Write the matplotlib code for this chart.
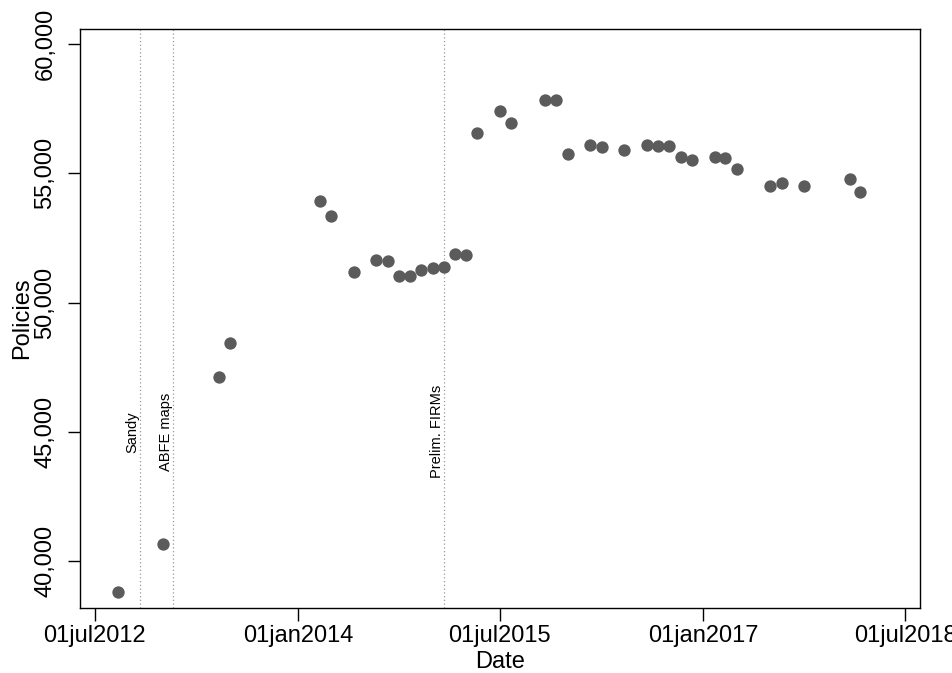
import pandas as pd
import matplotlib
matplotlib.use('Agg')
import matplotlib.pyplot as plt
import matplotlib.dates as mdates
from matplotlib.ticker import FuncFormatter

# Monthly policy counts (first of month)
months = ['2012-09', '2013-01', '2013-06', '2013-07', '2014-03', '2014-04',
          '2014-06', '2014-08', '2014-09', '2014-10', '2014-11', '2014-12',
          '2015-01', '2015-02', '2015-03', '2015-04', '2015-05', '2015-07',
          '2015-08', '2015-11', '2015-12', '2016-01', '2016-03', '2016-04',
          '2016-06', '2016-08', '2016-09', '2016-10', '2016-11', '2016-12',
          '2017-02', '2017-03', '2017-04', '2017-07', '2017-08', '2017-10',
          '2018-02', '2018-03']
policies = [38800, 40660, 47140, 48450, 53920, 53350,
            51190, 51650, 51600, 51020, 51020, 51270,
            51350, 51370, 51880, 51850, 56560, 57410,
            56930, 57850, 57820, 55760, 56080, 56030,
            55910, 56090, 56050, 56050, 55630, 55530,
            55620, 55580, 55170, 54520, 54610, 54510,
            54790, 54280]

# Event lines
event_dates = ['2012-10-30', '2013-01-28', '2015-01-30']
event_labels = ['Sandy', 'ABFE maps', 'Prelim. FIRMs']

tick_dates = ['2012-07-01', '2014-01-01', '2015-07-01', '2017-01-01', '2018-07-01']
y_ticks = [40000, 45000, 50000, 55000, 60000]

dates = pd.to_datetime([m + '-01' for m in months])

plt.rcParams['font.family'] = ['Liberation Sans', 'DejaVu Sans']

fig = plt.figure(figsize=(9.53, 6.73), dpi=100)
ax = fig.add_axes([0.0839, 0.0966, 0.8815, 0.8608])

for d, lab in zip(event_dates, event_labels):
    d = pd.Timestamp(d)
    ax.axvline(d, color='#9a9a9a', linestyle=(0, (1, 2)), linewidth=0.9, zorder=1)
    ax.text(d, 45000, lab, rotation=90, ha='right', va='center', fontsize=10.5)

ax.plot(dates, policies, 'o', color='#5b5b5b', markersize=8.9,
        markeredgewidth=0, zorder=3)

ax.set_xlim(pd.Timestamp('2012-05-22'), pd.Timestamp('2018-08-10'))
ax.set_ylim(38190, 60590)

ax.set_xticks(pd.to_datetime(tick_dates))
ax.xaxis.set_major_formatter(FuncFormatter(
    lambda v, pos: mdates.num2date(v).strftime('%d%b%Y').lower()))
ax.set_yticks(y_ticks)
ax.yaxis.set_major_formatter(FuncFormatter(lambda v, pos: f'{int(v):,}'))
for lab in ax.get_yticklabels():
    lab.set_rotation(90)
    lab.set_va('center')

ax.tick_params(axis='both', labelsize=17, length=9, width=1.0, direction='out')
ax.tick_params(axis='y', pad=8)
ax.tick_params(axis='x', pad=3)
for s in ax.spines.values():
    s.set_linewidth(1.0)

ax.set_xlabel('Date', fontsize=17, labelpad=3)
ax.set_ylabel('Policies', fontsize=17, labelpad=1)

plt.savefig('out.png', dpi=100)
